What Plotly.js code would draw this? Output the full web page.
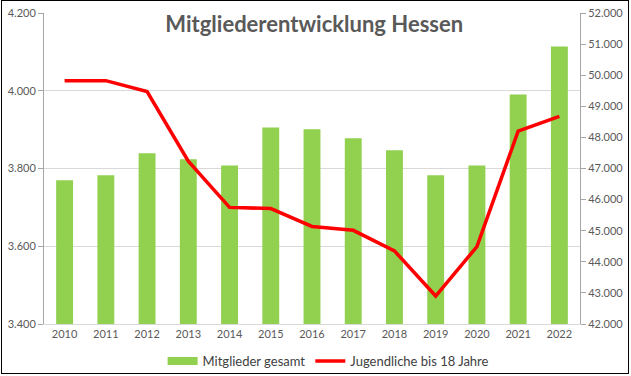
<!DOCTYPE html>
<html>
<head>
<meta charset="utf-8">
<script src="https://cdn.plot.ly/plotly-3.0.1.min.js"></script>
<style>
  html, body { margin: 0; padding: 0; background: #fff; }
  #wrap { position: relative; width: 631px; height: 376px; }
  #chart { position: absolute; left: 0; top: 0; width: 631px; height: 376px; }
  #frame { position: absolute; left: 1px; top: 0px; width: 626px; height: 372px; border: 1px solid #000; pointer-events: none; }
</style>
</head>
<body>
<div id="wrap">
  <div id="chart"></div>
  <div id="frame"></div>
</div>
<script>
const years = ['2010','2011','2012','2013','2014','2015','2016','2017','2018','2019','2020','2021','2022'];
const mitgliederGesamt = [46620, 46780, 47490, 47300, 47100, 48320, 48260, 47970, 47590, 46780, 47100, 49380, 50920];
const jugendliche = [4026, 4026, 3998, 3819, 3700, 3697, 3651, 3641, 3588, 3472, 3599, 3896, 3934];

const font = "Lato, 'Open Sans', sans-serif";
const grey = '#595959';
const green = '#92D050';

const traces = [
  {
    type: 'bar', name: 'Mitglieder gesamt', x: years, y: mitgliederGesamt,
    yaxis: 'y', marker: { color: green }, width: 0.41, hoverinfo: 'skip', showlegend: false
  },
  {
    // legend entry only: wide swatch like the original
    type: 'scatter', mode: 'lines', name: 'Mitglieder gesamt', x: [null], y: [null],
    yaxis: 'y', line: { color: green, width: 8 }, hoverinfo: 'skip', showlegend: true
  },
  {
    type: 'scatter', mode: 'lines', name: 'Jugendliche bis 18 Jahre', x: years, y: jugendliche,
    yaxis: 'y2', line: { color: '#FF0000', width: 3.5 }, hoverinfo: 'skip'
  }
];

const layout = {
  width: 631, height: 376,
  separators: ',.',
  paper_bgcolor: '#fff', plot_bgcolor: 'rgba(0,0,0,0)',
  margin: { l: 44, r: 50.5, t: 12.5, b: 52 },
  font: { family: font, color: grey, size: 11 },
  title: {
    text: '<b>Mitgliederentwicklung Hessen</b>',
    font: { family: font, size: 22, color: grey },
    x: 0.498, xref: 'container', xanchor: 'center',
    y: 0.935, yref: 'container', yanchor: 'middle'
  },
  showlegend: true,
  legend: {
    orientation: 'h', x: 0.52, xref: 'container', xanchor: 'center',
    y: 0.04, yref: 'container', yanchor: 'middle',
    font: { family: font, size: 13, color: '#404040' }, traceorder: 'normal',
    itemwidth: 30, bgcolor: 'rgba(0,0,0,0)'
  },
  bargap: 0.59,
  xaxis: {
    type: 'category', showline: true, linecolor: '#D9D9D9', linewidth: 1,
    ticks: '', tickfont: { size: 11, color: grey }, showgrid: false, fixedrange: true, automargin: false
  },
  yaxis: {
    side: 'right', range: [42000, 52000], dtick: 1000, tick0: 42000, tickformat: ',d',
    showgrid: false, zeroline: false, showline: true, linecolor: '#A6A6A6', linewidth: 1,
    ticks: 'outside', ticklen: 5, tickcolor: '#A6A6A6', tickfont: { size: 11, color: grey }, fixedrange: true, automargin: false
  },
  yaxis2: {
    overlaying: 'y', side: 'left', range: [3400, 4200], dtick: 200, tick0: 3400, tickformat: ',d',
    showgrid: true, gridcolor: '#D9D9D9', zeroline: false, showline: true, linecolor: '#A6A6A6', linewidth: 1,
    ticks: 'outside', ticklen: 5, tickcolor: '#A6A6A6', tickfont: { size: 11, color: grey }, fixedrange: true, automargin: false
  }
};

Plotly.newPlot('chart', traces, layout, { displayModeBar: false, staticPlot: true });
</script>
</body>
</html>
